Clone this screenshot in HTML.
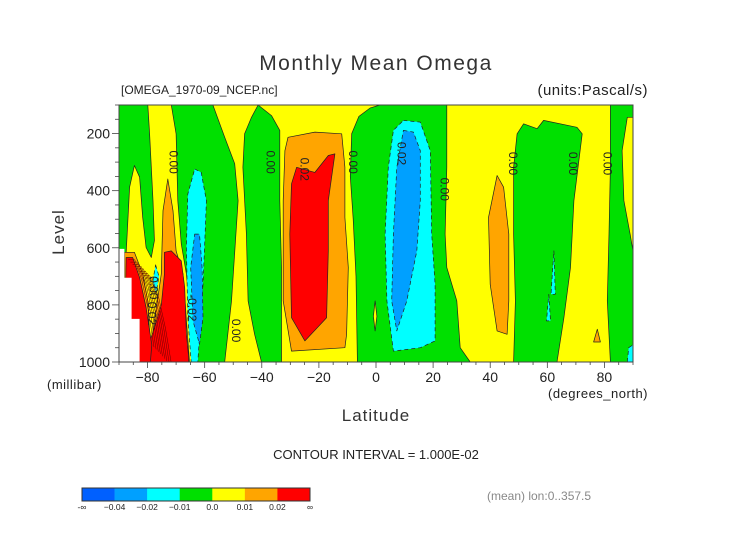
<!DOCTYPE html>
<html><head><meta charset="utf-8"><style>
body{margin:0;background:#fff;width:752px;height:532px;overflow:hidden}
svg text{font-family:"Liberation Sans",sans-serif;fill:#222}
</style></head><body>
<svg id="chart" width="752" height="532" viewBox="0 0 752 532" xmlns="http://www.w3.org/2000/svg">
<text x="376" y="70" text-anchor="middle" font-size="21" letter-spacing="1.5" style="fill:#333">Monthly Mean Omega</text>
<text x="121" y="94" font-size="12">[OMEGA_1970-09_NCEP.nc]</text>
<text x="648" y="95" text-anchor="end" font-size="15" letter-spacing="0.5">(units:Pascal/s)</text>
<g id="plot"></g>
<g id="axes"></g>
<text transform="translate(64,232) rotate(-90)" text-anchor="middle" font-size="17" letter-spacing="1" style="fill:#333">Level</text>
<text x="47" y="389" font-size="13" letter-spacing="0.5">(millibar)</text>
<text x="376" y="421" text-anchor="middle" font-size="17" letter-spacing="1" style="fill:#333">Latitude</text>
<text x="648" y="398" text-anchor="end" font-size="13" letter-spacing="0.5">(degrees_north)</text>
<text x="376" y="459" text-anchor="middle" font-size="13">CONTOUR INTERVAL = 1.000E-02</text>
<text x="487" y="500" font-size="12" style="fill:#888">(mean) lon:0..357.5</text>
<g id="cbar"></g>
</svg>
<script>
const NS="http://www.w3.org/2000/svg";
const xTicks=[-80,-60,-40,-20,0,20,40,60,80];
const yTicks=[200,400,600,800,1000];
const cbarColors=["#0060ff","#00a0ff","#00ffff","#00e000","#ffff00","#ffa500","#ff0000"];
const cbarLabels=["-∞","−0.04","−0.02","−0.01","0.0","0.01","0.02","∞"];
// contour regions: [lat, level(mb)]
const yellowL=[[-84.6,312],[-82.8,353],[-81.7,494],[-80.5,599],[-78.7,634],[-77.6,575],[-78.1,435],[-79.3,201],[-79.9,100],[-71.7,100],[-70,201],[-69.4,435],[-68.2,587],[-66.4,692],[-63.5,1000],[-88.1,1000],[-87.5,622],[-86.3,388]];
const yellowA=[[-57.1,100],[-41.3,100],[-43.6,143],[-46,201],[-46.6,318],[-45.4,552],[-44.8,786],[-42.5,903],[-40.1,1000],[-53,1000],[-50.6,786],[-48.3,435],[-49.5,306],[-53,213]];
const yellowB=[[-41.3,100],[1.4,100],[-2,110],[-6,140],[-8.5,200],[-9,350],[-8,500],[-7,700],[-6.5,1000],[-33.1,1000],[-33.1,669],[-33.7,435],[-33.7,189],[-36.6,137]];
const yellowC=[[24.8,100],[82.1,100],[82.1,318],[81.6,552],[81,786],[82.1,1000],[63.4,1000],[65.8,845],[68.1,669],[69.3,435],[72.2,201],[70.4,178],[58.7,154],[56.4,183],[51.7,166],[49.4,201],[48.2,318],[48.2,552],[48.8,786],[48.2,1000],[33,1000],[29.5,950],[28.3,786],[24.8,669],[24.2,552],[24.8,318]];
const yellowR=[[88,143],[90,143],[90,611],[89,552],[86.8,435],[86.2,260]];
const yellowS=[[-0.3,786],[0.3,840],[-0.3,891],[-0.9,840]];
const orangeBL=[[-88.1,616],[-84.6,616],[-81.7,692],[-79.9,786],[-78.7,1000],[-88.1,1000]];
const orange1=[[-72.9,359],[-71.1,470],[-70,611],[-67.6,692],[-65.3,1000],[-78.7,1000],[-78.1,891],[-75.2,692],[-74.6,470]];
const orange2=[[-30.8,213],[-21.4,195],[-12,201],[-10.9,318],[-10.9,494],[-9.7,669],[-10.3,903],[-10.9,950],[-29.6,962],[-32.5,786],[-32.5,435],[-31.9,260]];
const orange3=[[42.4,347],[44.7,388],[46.5,552],[46.5,786],[45.9,903],[42.4,891],[40,728],[39.4,494]];
const orange4=[[77.5,885],[78.6,930],[76.2,930]];
const redBL=[[-87.5,634],[-85.2,634],[-82.8,704],[-80.5,809],[-78.5,940],[-79,1000],[-88.1,1000]];
const red2=[[-74.1,616],[-71.7,611],[-68.2,646],[-67,739],[-66.4,903],[-65.6,985],[-65.6,1000],[-82,1000],[-80,950],[-77.6,880],[-75.2,800],[-74.1,692]];
const red3=[[-27.8,318],[-21.4,336],[-16.7,277],[-14.4,271],[-16.7,435],[-16.7,611],[-17.3,845],[-24.9,926],[-29.6,845],[-30.2,552],[-29.6,376]];
const cyan1=[[-63.5,324],[-61.2,336],[-59.4,435],[-60,587],[-60.6,728],[-62.4,1000],[-64.7,1000],[-65.9,845],[-66.4,599],[-65.9,412]];
const cyan2=[[9.6,154],[15.5,160],[19,260],[19.5,552],[20.7,728],[20.7,926],[15.5,950],[6.1,962],[3.8,786],[3.2,552],[4.3,318],[6.1,189]];
const cyan3=[[62.3,611],[62.8,763],[61.3,763]];
const cyan4=[[60.5,763],[61.1,856],[59.7,856]];
const cyan5=[[88.5,950],[90,940],[90,1000],[88,1000]];
const cyan6=[[-77.2,660],[-76,700],[-77,760],[-78.2,720]];
const blue1=[[-63.5,552],[-61.8,552],[-60.9,669],[-60.6,845],[-61.8,938],[-64.1,856],[-64.9,669]];
const blue2=[[9.6,189],[13.1,195],[15.5,260],[15.5,435],[14.3,611],[10.8,786],[7.3,891],[5.5,786],[6.1,552],[7.3,318]];
const whiteMask=[[-90,604],[-88.1,604],[-88.1,705],[-85.6,705],[-85.6,849],[-82.8,849],[-82.8,1000],[-90,1000]];
const labelPos=[[-71,300,"0.00"],[-37,300,"0.00"],[-25,325,"0.02"],[-8,300,"0.00"],[9,270,"0.02"],[24,395,"0.00"],[48,305,"0.00"],[69,305,"0.00"],[81,305,"0.00"],[-49,890,"0.00"],[-64.5,810,"-0.02"],[-78,740,"0.00"],[-78.5,830,"0.02"]];

const X0=119,X1=633,Y0=105,Y1=362;
const sx=lat=>X0+(lat+90)/180*(X1-X0);
const sy=lev=>Y0+(lev-100)/900*(Y1-Y0);
const plot=document.getElementById('plot');
function rect(g,x,y,w,h,fill,stroke){const r=document.createElementNS(NS,'rect');r.setAttribute('x',x);r.setAttribute('y',y);r.setAttribute('width',w);r.setAttribute('height',h);r.setAttribute('fill',fill);if(stroke){r.setAttribute('stroke',stroke);}g.appendChild(r);return r;}
const bg=rect(plot,X0,Y0,X1-X0,Y1-Y0,"#00e000");


function poly(pts,fill,name,dash){const p=document.createElementNS(NS,'polygon');
p.setAttribute('points',pts.map(q=>sx(q[0]).toFixed(1)+','+sy(q[1]).toFixed(1)).join(' '));
p.setAttribute('fill',fill);p.setAttribute('stroke',fill=="#fff"?"none":"#222");p.setAttribute('stroke-width','0.7');
if(dash)p.setAttribute('stroke-dasharray','4,3');
p.setAttribute('stroke-linejoin','round');


plot.appendChild(p);}
poly(yellowL,"#ffff00","yellow-region-left");
poly(yellowA,"#ffff00","yellow-region-a");
poly(yellowB,"#ffff00","yellow-region-b");
poly(yellowC,"#ffff00","yellow-region-c");
poly(yellowR,"#ffff00","yellow-region-right");
poly(yellowS,"#ffff00","yellow-region-small");
poly(orangeBL,"#ffa500","orange-region-bl");
poly(orange1,"#ffa500","orange-region-1");
poly(orange2,"#ffa500","orange-region-2");
poly(orange3,"#ffa500","orange-region-3");
poly(orange4,"#ffa500","orange-region-4");
poly(red2,"#ff0000","red-region-2");
poly(redBL,"#ff0000","red-region-bl");
poly(red3,"#ff0000","red-region-3");
poly(cyan1,"#00ffff","cyan-region-1",true);
poly(cyan2,"#00ffff","cyan-region-2",true);
poly(cyan3,"#00ffff","cyan-region-3",true);
poly(cyan4,"#00ffff","cyan-region-4",true);
poly(cyan5,"#00ffff","cyan-region-5",true);
poly(cyan6,"#00ffff","cyan-region-6",true);
poly(blue1,"#00a0ff","blue-region-1",true);
poly(blue2,"#00a0ff","blue-region-2",true);
// dense contour lines in strong-descent corner (offsets of red region outline)
for(let k=1;k<=9;k++){
const inner=redBL.slice(0,5).map(q=>[q[0]+k*0.75,q[1]+k*8]);
const pl=document.createElementNS(NS,'polyline');
pl.setAttribute('points',inner.map(q=>sx(q[0]).toFixed(1)+','+sy(Math.min(q[1],1000)).toFixed(1)).join(' '));
pl.setAttribute('fill','none');pl.setAttribute('stroke','#600');pl.setAttribute('stroke-width','0.5');


plot.appendChild(pl);}
poly(whiteMask,"#fff","missing-data-mask");
labelPos.forEach(l=>{const t=document.createElementNS(NS,'text');
t.setAttribute('transform',`translate(${sx(l[0])-4},${sy(l[1])}) rotate(90)`);
t.setAttribute('text-anchor','middle');t.setAttribute('font-size','12');t.textContent=l[2];


plot.appendChild(t);});
const axes=document.getElementById('axes');
const fr=rect(axes,X0,Y0,X1-X0,Y1-Y0,"none","#444");


function line(x1,y1,x2,y2){const l=document.createElementNS(NS,'line');l.setAttribute('x1',x1);l.setAttribute('y1',y1);l.setAttribute('x2',x2);l.setAttribute('y2',y2);l.setAttribute('stroke','#444');l.setAttribute('stroke-width','0.8');


axes.appendChild(l);}
for(let lev=100;lev<=1000;lev+=50){const major=yTicks.includes(lev);line(X0,sy(lev),X0-(major?7:4),sy(lev));}
for(let lat=-90;lat<=90;lat+=5){const major=xTicks.includes(lat);line(sx(lat),Y1,sx(lat),Y1+(major?6:3));}
yTicks.forEach(v=>{const t=document.createElementNS(NS,'text');t.setAttribute('x',110);t.setAttribute('y',sy(v)+5);t.setAttribute('text-anchor','end');t.setAttribute('font-size','14');t.textContent=v;


axes.appendChild(t);});
xTicks.forEach(v=>{const t=document.createElementNS(NS,'text');t.setAttribute('x',sx(v));t.setAttribute('y',382);t.setAttribute('text-anchor','middle');t.setAttribute('font-size','14');t.textContent=v<0?'−'+(-v):v;


axes.appendChild(t);});
const cb=document.getElementById('cbar');const CX=82,CW=228,CY=488,CH=13;
cbarColors.forEach((c,i)=>{const r=rect(cb,CX+i*CW/7,CY,CW/7+0.3,CH,c);

});
const cf=rect(cb,CX,CY,CW,CH,"none","#333");


cbarLabels.forEach((s,i)=>{const t=document.createElementNS(NS,'text');t.setAttribute('x',CX+i*CW/7);t.setAttribute('y',510);t.setAttribute('text-anchor','middle');t.setAttribute('font-size','8.5');t.textContent=s;


cb.appendChild(t);});
</script>
</body></html>
